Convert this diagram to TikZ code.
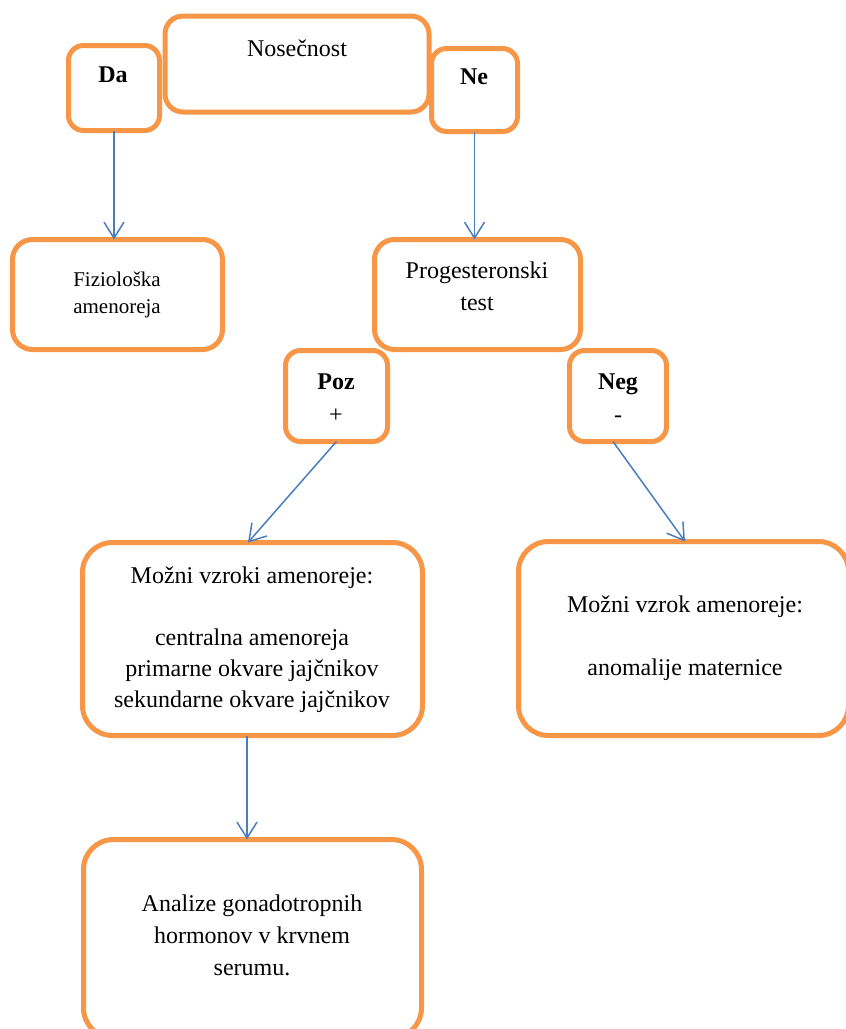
\documentclass[tikz,border=0pt]{standalone}
\usepackage{fontspec}
\setmainfont{Liberation Serif}
\usetikzlibrary{arrows.meta}
\definecolor{boxorange}{HTML}{F79646}
\definecolor{arrowblue}{HTML}{4A7EBB}
\tikzset{
  box/.style={draw=boxorange, line width=5pt, fill=white, rectangle, outer sep=0pt, inner sep=0pt},
  small/.style={box, rounded corners=15pt},
  big/.style={box, rounded corners=30pt},
  txt/.style={align=center, inner sep=0pt, font=\fontsize{24}{32}\selectfont},
  conn/.style={draw=arrowblue, line width=1.5pt, -{Straight Barb[length=16pt,width=20pt,line width=1.5pt]}}
}
\begin{document}
\begin{tikzpicture}[x=1pt,y=-1pt]
\useasboundingbox (0,0) rectangle (846,1029);
% boxes
\node[small, minimum width=91pt, minimum height=85pt] (da) at (114,88) {};
\node[small, minimum width=86pt, minimum height=83pt] (ne) at (474.5,90) {};
\node[small, rounded corners=18pt, minimum width=264pt, minimum height=96pt] (nos) at (297,64) {};
\node[small, rounded corners=20pt, minimum width=210pt, minimum height=110pt] (fiz) at (117.5,294.5) {};
\node[small, rounded corners=20pt, minimum width=206pt, minimum height=110pt] (prog) at (477.5,294.5) {};
\node[small, minimum width=102pt, minimum height=91pt] (poz) at (336.5,396) {};
\node[small, minimum width=97pt, minimum height=91pt] (neg) at (618,396) {};
\node[big, minimum width=340pt, minimum height=193pt] (mv) at (252.5,639) {};
\node[big, minimum width=330pt, minimum height=194pt] (mr) at (683.5,638.5) {};
\node[big, minimum width=338pt, minimum height=198.5pt] (an) at (252.5,938.75) {};
% texts
\node[txt] (tnos) at (297,48.5) {Nosečnost};
\node[txt, font=\fontsize{24}{32}\selectfont\bfseries] (tda) at (113,75) {Da};
\node[txt, font=\fontsize{24}{32}\selectfont\bfseries] (tne) at (474,77) {Ne};
\node[txt, font=\fontsize{21}{27}\selectfont] (tfiz) at (117,295) {Fiziološka\\amenoreja};
\node[txt] (tprog) at (477,286) {Progesteronski\\test};
\node[txt, font=\fontsize{24}{33}\selectfont] (tpoz) at (336,398.5) {\textbf{Poz}\\+};
\node[txt, font=\fontsize{24}{33}\selectfont] (tneg) at (618,398.5) {\textbf{Neg}\\-};
\node[txt, font=\fontsize{24}{31}\selectfont] (tmv) at (252,640) {Možni vzroki amenoreje:\\[31pt]centralna amenoreja\\primarne okvare jajčnikov\\sekundarne okvare jajčnikov};
\node[txt, font=\fontsize{24}{31.5}\selectfont] (tmr) at (685,638.5) {Možni vzrok amenoreje:\\[31.5pt]anomalije maternice};
\node[txt] (tan) at (252,935) {Analize gonadotropnih\\hormonov v krvnem\\serumu.};
% connectors
\coordinate (mvin) at (248,542.5);
\coordinate (mrin) at (685,541.5);
\draw[conn] (da.south) -- (da.south |- fiz.north);
\draw[conn] (ne.south) -- (ne.south |- prog.north);
\draw[conn] (poz.south) -- (mvin);
\draw[conn] (neg.south -| 613,0) -- (mrin);
\draw[conn] (mv.south -| 247,0) -- (an.north -| 247,0);
\end{tikzpicture}
\end{document}
